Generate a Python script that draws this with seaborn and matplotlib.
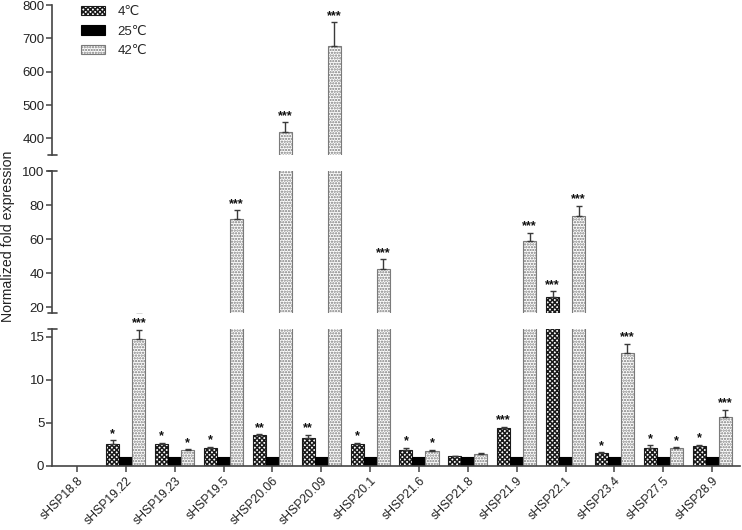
import numpy as np
import pandas as pd
import matplotlib
matplotlib.use("Agg")
import matplotlib.pyplot as plt
import seaborn as sns
from matplotlib.lines import Line2D
from matplotlib.patches import Patch

# ---------------- data ----------------
genes = ['sHSP18.8', 'sHSP19.22', 'sHSP19.23', 'sHSP19.5', 'sHSP20.06', 'sHSP20.09',
         'sHSP20.1', 'sHSP21.6', 'sHSP21.8', 'sHSP21.9', 'sHSP22.1', 'sHSP23.4',
         'sHSP27.5', 'sHSP28.9']
temps = ['4℃', '25℃', '42℃']

val_4 = [0, 2.55, 2.55, 2.1, 3.6, 3.2, 2.6, 1.85, 1.15, 4.4, 25.8, 1.5, 2.1, 2.3]
err_4 = [0, 0.45, 0.15, 0.1, 0.1, 0.4, 0.1, 0.25, 0.05, 0.15, 3.5, 0.1, 0.3, 0.15]
val_25 = [0, 1.0, 1.0, 1.0, 1.0, 1.0, 1.0, 1.0, 1.0, 1.0, 1.0, 1.0, 1.0, 1.0]
err_25 = [0, 0, 0, 0, 0, 0, 0, 0, 0, 0, 0, 0, 0, 0]
val_42 = [0, 14.7, 1.85, 72, 420, 678, 42.6, 1.75, 1.4, 59, 73.5, 13.1, 2.1, 5.7]
err_42 = [0, 1.1, 0.1, 5, 28, 70, 5.5, 0.1, 0.1, 4.5, 6, 1.1, 0.05, 0.8]

sig_4 = ['', '*', '*', '*', '**', '**', '*', '*', '', '***', '***', '*', '*', '*']
sig_25 = ['', '', '', '', '', '', '', '', '', '', '', '', '', '']
sig_42 = ['', '***', '*', '***', '***', '***', '***', '*', '', '***', '***', '***', '*', '***']

y_label = 'Normalized fold expression'
ticks_top = [400, 500, 600, 700, 800]
ticks_mid = [20, 40, 60, 80, 100]
ticks_bot = [0, 5, 10, 15]

vals = {'4℃': val_4, '25℃': val_25, '42℃': val_42}
errs = {'4℃': err_4, '25℃': err_25, '42℃': err_42}
sigs = {'4℃': sig_4, '25℃': sig_25, '42℃': sig_42}

df = pd.concat([pd.DataFrame({'gene': genes, 'temp': t, 'value': vals[t]}) for t in temps],
               ignore_index=True)

# ---------------- style ----------------
sns.set_style('ticks')
plt.rcParams['font.family'] = ['Liberation Sans', 'DejaVu Sans']
plt.rcParams['hatch.linewidth'] = 1.1
AX_COLOR = '#444444'

styles = {
    '4℃': dict(face='white', edge='#1a1a1a', hatch='xxxxxxx'),
    '25℃': dict(face='black', edge='black', hatch=None),
    '42℃': dict(face='white', edge='#7a7a7a', hatch='......'),
}

W, H = 742, 530
fig = plt.figure(figsize=(W / 100, H / 100), dpi=100)

X0, X1 = 52, 740


def add(y0, y1):
    return fig.add_axes([X0 / W, 1 - y1 / H, (X1 - X0) / W, (y1 - y0) / H])


axes = [add(5, 155), add(171, 313), add(329, 466)]
ylims = [(350, 800), (16.5, 100), (0, 15.9)]
yticks = [ticks_top, ticks_mid, ticks_bot]

for k, (ax, (lo, hi), yt) in enumerate(zip(axes, ylims, yticks)):
    sns.barplot(data=df, x='gene', y='value', hue='temp', order=genes, hue_order=temps,
                errorbar=None, width=0.8, ax=ax, legend=False,
                palette={t: styles[t]['face'] for t in temps}, saturation=1)
    for t, cont in zip(temps, ax.containers):
        st = styles[t]
        for j, bar in enumerate(cont):
            v = vals[t][j]
            e = errs[t][j]
            if v <= 0:
                bar.set_visible(False)
                continue
            bar.set_facecolor(st['face'])
            bar.set_edgecolor(st['edge'])
            bar.set_linewidth(0.8)
            if st['hatch']:
                bar.set_hatch(st['hatch'])
            xc = bar.get_x() + bar.get_width() / 2
            if e > 0:
                ax.errorbar([xc], [v], yerr=[[0], [e]], fmt='none', ecolor='#3a3a3a',
                            elinewidth=1.0, capsize=2.5, capthick=1.0, zorder=1)
            top = v + e
            s = sigs[t][j]
            if s and lo <= top < hi:
                ax.annotate(s, (xc, top), xytext=(0, 0.3), textcoords='offset points',
                            ha='center', va='bottom', fontsize=9, fontweight='bold',
                            color='#111111', annotation_clip=False)
    ax.set_ylim(lo, hi)
    ax.set_xlim(-0.51, 13.57)
    ax.set_yticks(yt)
    ax.set_xlabel('')
    ax.set_ylabel('')
    for sp in ['top', 'right']:
        ax.spines[sp].set_visible(False)
    ax.spines['left'].set_color(AX_COLOR)
    ax.spines['left'].set_linewidth(1.2)
    ax.tick_params(axis='y', length=4, width=1.1, color=AX_COLOR, labelsize=9.5,
                   labelcolor='#222222', pad=1.5)
    if k < 2:
        ax.spines['bottom'].set_visible(False)
        ax.tick_params(axis='x', bottom=False, labelbottom=False)
    else:
        ax.spines['bottom'].set_color(AX_COLOR)
        ax.spines['bottom'].set_linewidth(1.2)
        ax.tick_params(axis='x', length=4, width=1.1, color=AX_COLOR, labelsize=8.8,
                       labelcolor='#222222', pad=2.5)
        ax.set_xticks(range(len(genes)))
        ax.set_xticklabels(genes, rotation=45, ha='right', va='top', rotation_mode='anchor')
    ax.patch.set_alpha(0)

# break marks on the y axis
for yb in [155, 171, 313, 329]:
    fig.add_artist(Line2D([(X0 - 4) / W, (X0 + 5) / W], [1 - yb / H, 1 - yb / H],
                          transform=fig.transFigure, color=AX_COLOR, lw=1.2))

fig.text(8 / W, 1 - 236 / H, y_label, rotation=90, ha='center', va='center',
         fontsize=10.2, color='#222222')

handles = [Patch(facecolor=styles[t]['face'], edgecolor=styles[t]['edge'],
                 hatch=styles[t]['hatch'], linewidth=0.8) for t in temps]
fig.legend(handles, temps, loc='upper left', bbox_to_anchor=(81 / W, 1 - 6 / H),
           frameon=False, fontsize=9.5, handlelength=1.85, handleheight=0.7,
           handletextpad=0.9, labelspacing=0.55, borderpad=0, borderaxespad=0)

fig.savefig('out.png', dpi=100)
